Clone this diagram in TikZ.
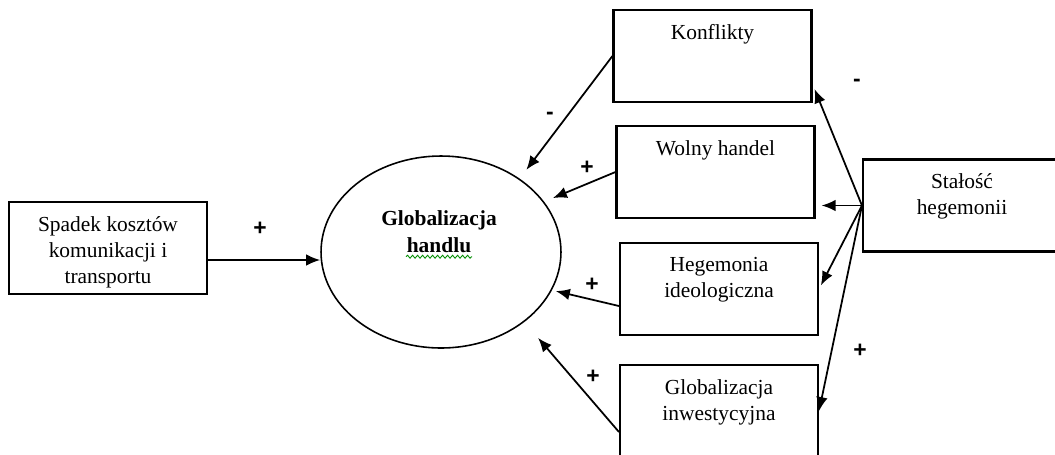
\documentclass[tikz,border=0pt]{standalone}
\usepackage{fontspec}
\setmainfont{Liberation Serif}
\newfontfamily\signfont{Liberation Sans}
\usetikzlibrary{arrows.meta,shapes.geometric,decorations.pathmorphing}

\begin{document}
\begin{tikzpicture}[x=0.02cm,y=-0.02cm,>={Latex[length=2.8mm,width=2.3mm]},
        font=\fontsize{12.2}{14.8}\selectfont]

        \tikzstyle{factor}=[draw,line width=1.2pt,minimum width=3.96cm,minimum height=1.84cm,inner sep=0pt]
        \tikzstyle{boxtxt}=[anchor=north,yshift=-0.3cm,inner sep=0pt,align=center]
        \tikzstyle{sign}=[font=\signfont\fontsize{13}{13}\selectfont\bfseries,inner sep=0pt]

        \useasboundingbox (0,0) rectangle (1055,454);
        \clip (0,0) rectangle (1055,454);

        % boxes
        \node (spadek) [factor] at (108,248) {};
        \node (konf)   [factor] at (712.5,56) {};
        \node (wolny)  [factor] at (715.5,172) {};
        \node (heg)    [factor] at (719,289) {};
        \node (inv)    [factor] at (719,411) {};
        \node (stal)   [factor] at (962,205.5) {};

        \node (spadektxt) [boxtxt] at (spadek.north) {Spadek kosztów\\komunikacji i\\transportu};
        \node (konftxt)   [boxtxt] at (konf.north)   {Konflikty};
        \node (wolnytxt)  [boxtxt] at (wolny.north)  {Wolny handel};
        \node (hegtxt)    [boxtxt] at (heg.north)    {Hegemonia\\ideologiczna};
        \node (invtxt)    [boxtxt] at (inv.north)    {Globalizacja\\inwestycyjna};
        \node (staltxt)   [boxtxt] at (stal.north)   {Stałość\\hegemonii};

        % center
        \node (glob) [ellipse,draw,line width=0.9pt,minimum width=4.8cm,minimum height=3.84cm,inner sep=0pt] at (441,252) {};
        \node (globtxt) [anchor=north,align=center,inner sep=0pt,
              font=\fontsize{12.2}{15.3}\selectfont\bfseries] at (439,210) {Globalizacja\\handlu};
        \draw[green!55!black,line width=0.5pt,decorate,decoration={snake,amplitude=0.03cm,segment length=0.1cm}]
              ([shift={(-33,4)}]globtxt.south) -- ([shift={(33,4)}]globtxt.south);

        \begin{scope}[line width=1pt]
        \coordinate (sp) at ([yshift=-0.24cm]spadek.east);
        \draw[->] (sp) -- (sp -| glob.west); %
        \draw[->,shorten >=0.22cm] (konf.west) -- (glob.43); %
        \draw[->,shorten >=0.19cm] (wolny.west) -- (glob.26); %
        \draw[->,shorten >=0.08cm] ([yshift=-0.34cm]heg.west) -- (glob.341); %
        \draw[->,shorten >=0.42cm] ([yshift=-0.42cm]inv.west) -- (glob.320); %

        \draw[->] (stal.west) -- ([shift={(2,-14)}]konf.south east); %
        \draw[->,shorten >=0.12cm] (stal.west) -- (stal.west -| wolny.east); %
        \draw[->,shorten >=0.08cm] (stal.west) -- (heg.east); %
        \draw[->] (stal.west) -- (inv.east); %
        \end{scope}

        % signs
        \node (s1) [sign] at (260,229) {+};
        \node (s2) [sign] at (550,116) {-};
        \node (s3) [sign] at (587,168) {+};
        \node (s4) [sign] at (592,285) {+};
        \node (s5) [sign] at (593,377) {+};
        \node (s6) [sign] at (857,83) {-};
        \node (s7) [sign] at (860,351) {+};
\end{tikzpicture}
\end{document}
